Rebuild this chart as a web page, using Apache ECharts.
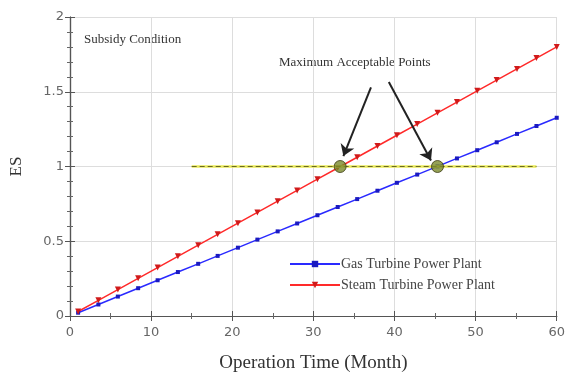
<!DOCTYPE html>
<html><head><meta charset="utf-8">
<script src="https://cdn.jsdelivr.net/npm/echarts@6/dist/echarts.min.js"></script>
<style>html,body{margin:0;padding:0;background:#fff}#c{width:568px;height:378px}</style>
</head><body><div id="c"></div>
<script>
const months = [1.0, 3.5, 5.9, 8.4, 10.8, 13.3, 15.8, 18.2, 20.7, 23.1, 25.6, 28.0, 30.5, 33.0, 35.4, 37.9, 40.3, 42.8, 45.3, 47.7, 50.2, 52.6, 55.1, 57.5, 60.0];
const gasES = [0.022, 0.077, 0.130, 0.186, 0.239, 0.294, 0.349, 0.402, 0.457, 0.511, 0.566, 0.619, 0.674, 0.729, 0.782, 0.838, 0.891, 0.946, 1.001, 1.054, 1.109, 1.162, 1.218, 1.271, 1.326];
const steamES = [0.030, 0.105, 0.177, 0.252, 0.324, 0.399, 0.474, 0.546, 0.621, 0.693, 0.768, 0.840, 0.915, 0.990, 1.062, 1.137, 1.209, 1.284, 1.359, 1.431, 1.506, 1.578, 1.653, 1.725, 1.800];
const limitLine = [[15, 1], [57.5, 1]];
const maxPoints = [[33.3, 1], [45.3, 1]];
const arrow1 = [[37.1, 1.53], [33.7, 1.07]];
const arrow2 = [[39.3, 1.565], [44.5, 1.04]];
const xTicks = [0, 10, 20, 30, 40, 50, 60];
const yTicks = [0, 0.5, 1, 1.5, 2];

const serif = 'Liberation Serif';
const lab = {fontFamily: 'DejaVu Sans', fontSize: 13, color: '#666'};
const axBase = {
  axisLine: {show: true, lineStyle: {color: '#555', width: 1.2}},
  axisTick: {show: true, inside: true, length: 5, lineStyle: {color: '#555'}},
};
const chart = echarts.init(document.getElementById('c'));
chart.setOption({
  animation: false,
  grid: {left: 64, right: 6, top: 17, bottom: 62, containLabel: false},
  xAxis: [
    Object.assign({type: 'value', min: 0, max: 60, interval: 10, position: 'bottom',
      axisLabel: Object.assign({margin: 10, formatter: v => xTicks.includes(v) ? String(v) : ''}, lab),
      splitLine: {show: true, lineStyle: {color: '#ddd', width: 1}},
      name: 'Operation Time (Month)', nameLocation: 'middle', nameGap: 38,
      nameTextStyle: {fontFamily: serif, fontSize: 19, color: '#333'}}, axBase,
      {minorTick: {show: true, splitNumber: 2, length: 3, lineStyle: {color: '#666'}}}),
    Object.assign({type: 'value', min: 0, max: 60, interval: 10, position: 'top',
      axisLabel: {show: false}, splitLine: {show: false}}, axBase,
      {minorTick: {show: true, splitNumber: 2, length: 3, lineStyle: {color: '#666'}}})
  ],
  yAxis: [
    Object.assign({type: 'value', min: 0, max: 2, interval: 0.5, position: 'left',
      axisLabel: Object.assign({margin: 6, formatter: v => yTicks.includes(v) ? String(v) : ''}, lab),
      splitLine: {show: true, lineStyle: {color: '#ddd', width: 1}},
      name: 'ES', nameLocation: 'middle', nameGap: 45, nameRotate: 90,
      nameTextStyle: {fontFamily: serif, fontSize: 17, color: '#333'}}, axBase,
      {minorTick: {show: true, splitNumber: 5, length: 3, lineStyle: {color: '#666'}}}),
    Object.assign({type: 'value', min: 0, max: 2, interval: 0.5, position: 'right',
      axisLabel: {show: false}, splitLine: {show: false}}, axBase,
      {minorTick: {show: true, splitNumber: 5, length: 3, lineStyle: {color: '#666'}}})
  ],
  legend: {
    data: ['Gas Turbine Power Plant', 'Steam Turbine Power Plant'],
    orient: 'vertical', left: 284, top: 252, itemGap: 7, itemWidth: 50, itemHeight: 8,
    textStyle: {fontFamily: serif, fontSize: 14, color: '#444', padding: [0, 0, 0, -4]}
  },
  graphic: [
    {type: 'text', left: 84, top: 33, style: {text: 'Subsidy Condition', font: '13px "Liberation Serif"', fill: '#333'}},
    {type: 'text', left: 279, top: 56, style: {text: 'Maximum Acceptable Points', font: '13px "Liberation Serif"', fill: '#333'}}
  ],
  series: [
    {name: 'Gas Turbine Power Plant', type: 'line', data: months.map((m, i) => [m, gasES[i]]),
      symbol: 'rect', symbolSize: 4, showAllSymbol: true,
      lineStyle: {color: '#2a2aff', width: 1.5}, itemStyle: {color: '#1a1ac0'}, z: 3},
    {name: 'Steam Turbine Power Plant', type: 'line', data: months.map((m, i) => [m, steamES[i]]),
      symbol: 'triangle', symbolRotate: 180, symbolSize: 6, showAllSymbol: true,
      lineStyle: {color: '#ff2a2a', width: 1.5}, itemStyle: {color: '#d01a1a'}, z: 3},
    {name: 'limit', type: 'line', data: limitLine, symbol: 'none',
      lineStyle: {color: '#e8e85a', width: 2.5}, z: 4, silent: true,
      markLine: {silent: true, symbol: ['none', 'arrow'], symbolSize: 11, label: {show: false},
        lineStyle: {color: '#222', width: 2, type: 'solid'},
        data: [
          [{coord: arrow1[0]}, {coord: arrow1[1]}],
          [{coord: arrow2[0]}, {coord: arrow2[1]}]
        ]}},
    {name: 'limit2', type: 'line', data: limitLine, symbol: 'none',
      lineStyle: {color: '#6a6a20', width: 1, type: [5, 3]}, z: 5, silent: true},
    {name: 'points', type: 'scatter', data: maxPoints, symbolSize: 12,
      itemStyle: {color: '#7b8a2a', borderColor: '#3a3a10', borderWidth: 1}, z: 7}
  ]
});
</script></body></html>
